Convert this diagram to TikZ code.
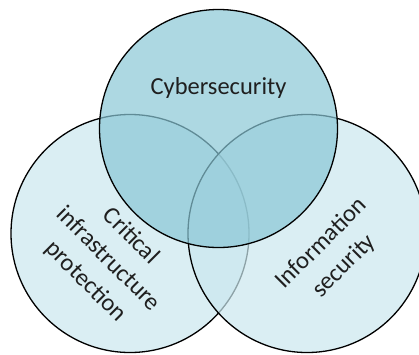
\documentclass[tikz,border=0pt]{standalone}
\usepackage{fontspec}
\setmainfont{Carlito}
\definecolor{topfill}{RGB}{138,199,214}
\definecolor{sidefill}{RGB}{202,231,238}
\begin{document}
\begin{tikzpicture}[x=1pt,y=-1pt,
  venn/.style={circle,draw=black,line width=1.3pt,minimum size=238pt,inner sep=0pt,fill opacity=0.7,draw opacity=1,text opacity=1},
  lbl/.style={font=\fontsize{24.5}{32}\selectfont,align=center,text=black!88}]
\useasboundingbox (0,0) rectangle (419,354);
\clip (0,0) rectangle (419,354);
\node[venn,fill=sidefill] (left) at (130,233.5) {};
\node[venn,fill=sidefill] (right) at (307,233.5) {};
\node[venn,fill=topfill] (top) at (218.5,128.5) {};
\node[lbl] (cyber) at (218.5,88) {Cybersecurity};
\node[lbl,rotate=-45] (cip) at (108,259) {Critical\\infrastructure\\protection};
\node[lbl,rotate=45] (info) at (333,255) {Information\\security};
\end{tikzpicture}
\end{document}
